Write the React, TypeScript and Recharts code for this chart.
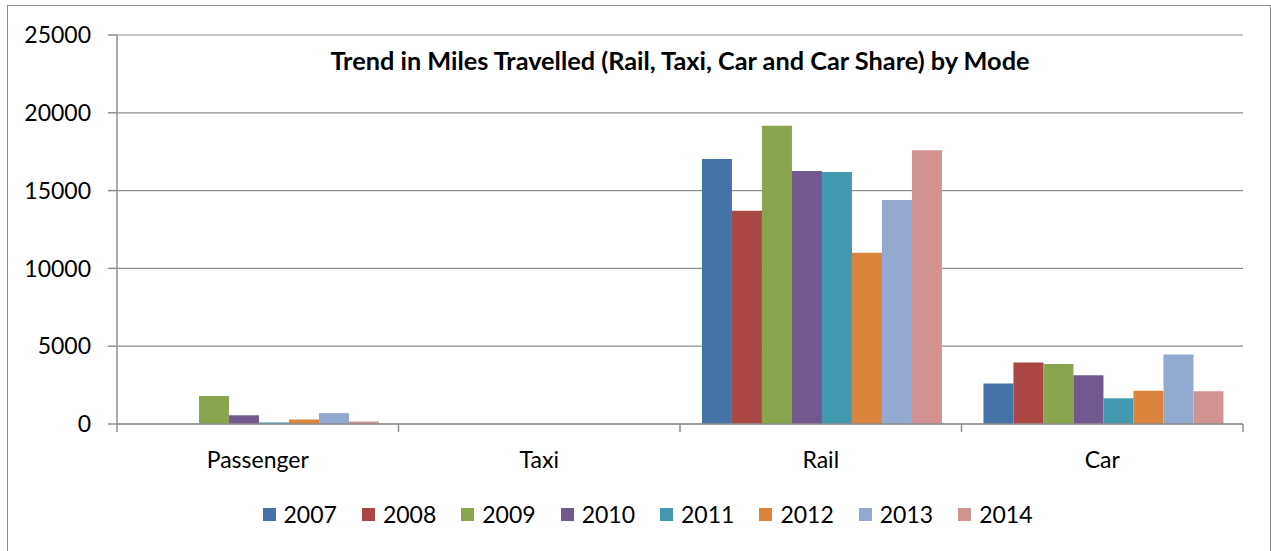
import React from 'react';
import { BarChart, Bar, XAxis, YAxis, CartesianGrid, Legend } from 'recharts';

const categories = ['Passenger', 'Taxi', 'Rail', 'Car'];
const years = ['2007', '2008', '2009', '2010', '2011', '2012', '2013', '2014'];
const colors = ['#4572A7', '#AA4643', '#89A54E', '#71588F', '#4198AF', '#DB843D', '#93A9CF', '#D19392'];

const miles2007 = [0, 0, 17030, 2600];
const miles2008 = [0, 0, 13700, 3950];
const miles2009 = [1800, 0, 19170, 3850];
const miles2010 = [560, 0, 16260, 3140];
const miles2011 = [100, 0, 16200, 1650];
const miles2012 = [290, 0, 11000, 2140];
const miles2013 = [700, 0, 14400, 4470];
const miles2014 = [160, 0, 17600, 2100];

const yTicks = [0, 5000, 10000, 15000, 20000, 25000];
// integer positions = category boundaries (tick marks), halves = category labels
const xTicks = [0, 0.5, 1, 1.5, 2, 2.5, 3, 3.5, 4];

const series = [miles2007, miles2008, miles2009, miles2010, miles2011, miles2012, miles2013, miles2014];

const data = categories.map((name, i) => {
  const row: Record<string, string | number> = { name, pos: i + 0.5 };
  years.forEach((y, j) => {
    row[y] = series[j][i];
  });
  return row;
});

const FONT = 'Lato, "Open Sans", sans-serif';
const GRID = '#8e8e8e';

function CategoryTick(props: any) {
  const { x, y, payload } = props;
  const v = payload.value as number;
  if (Number.isInteger(v)) {
    return <line x1={x} x2={x} y1={y} y2={y + 8} stroke={GRID} strokeWidth={1.5} />;
  }
  return (
    <text x={x} y={y + 44} textAnchor="middle" fill="#000" fontSize={23} fontFamily={FONT}>
      {categories[Math.floor(v)]}
    </text>
  );
}

function renderLegend() {
  return (
    <div style={{ display: 'flex', justifyContent: 'center', fontFamily: FONT, fontSize: 23, color: '#000' }}>
      {years.map((y, i) => (
        <div key={y} style={{ display: 'flex', alignItems: 'center', marginRight: i === years.length - 1 ? 0 : 25 }}>
          <span style={{ width: 13, height: 13, background: colors[i], display: 'inline-block', marginRight: 8 }} />
          <span>{y}</span>
        </div>
      ))}
    </div>
  );
}

export default function App() {
  return (
    <div style={{ position: 'relative', width: 1271, height: 551, overflow: 'hidden', background: '#fff' }}>
      <style>{`body{margin:0}`}</style>
      <div
        style={{
          position: 'absolute',
          left: 7,
          top: 5,
          width: 1262,
          height: 600,
          border: '1.5px solid #8c8c8c',
        }}
      />
      <div
        style={{
          position: 'absolute',
          left: 117,
          width: 1126,
          top: 45,
          textAlign: 'center',
          fontFamily: FONT,
          fontWeight: 700,
          fontSize: 25.3,
          color: '#000',
          zIndex: 2,
        }}
      >
        Trend in Miles Travelled (Rail, Taxi, Car and Car Share) by Mode
      </div>
      <BarChart
        width={1271}
        height={551}
        data={data}
        margin={{ top: 35, right: 28, bottom: 87, left: 0 }}
        barCategoryGap="7.8%"
        barGap={0}
        style={{ position: 'absolute', left: 0, top: 0 }}
      >
        <CartesianGrid vertical={false} stroke={GRID} strokeWidth={1.2} />
        <XAxis dataKey="name" hide height={0} />
        <XAxis
          xAxisId="edges"
          type="number"
          dataKey="pos"
          domain={[0, 4]}
          ticks={xTicks}
          interval={0}
          height={40}
          tickSize={0}
          tickMargin={0}
          tickLine={false}
          axisLine={{ stroke: GRID, strokeWidth: 1.5 }}
          tick={<CategoryTick />}
        />
        <YAxis
          width={117}
          domain={[0, 25000]}
          ticks={yTicks}
          interval={0}
          tickSize={9}
          tickMargin={17}
          axisLine={{ stroke: GRID, strokeWidth: 1.5 }}
          tickLine={{ stroke: GRID, strokeWidth: 1.5 }}
          tick={{ fill: '#000', fontSize: 23, fontFamily: FONT }}
        />
        <Legend
          verticalAlign="middle"
          align="center"
          layout="horizontal"
          content={renderLegend}
          wrapperStyle={{ top: 500, left: 12, width: 1271 }}
        />
        {years.map((y, i) => (
          <Bar key={y} dataKey={y} fill={colors[i]} isAnimationActive={false} />
        ))}
      </BarChart>
    </div>
  );
}
